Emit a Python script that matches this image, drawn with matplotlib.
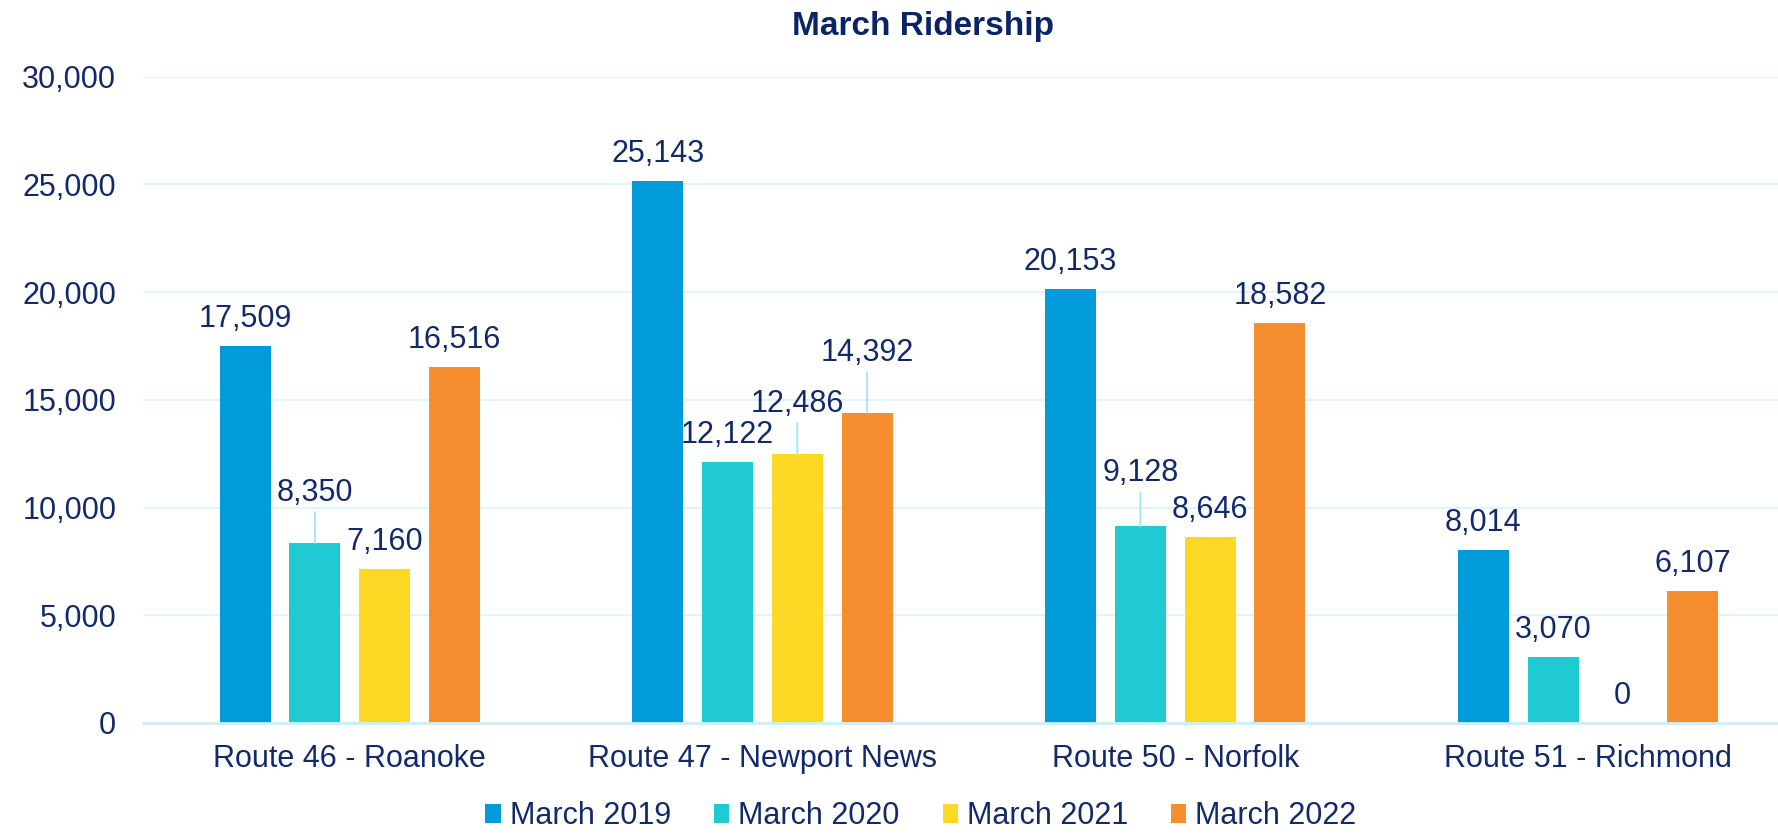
import matplotlib
matplotlib.use("Agg")
import matplotlib.pyplot as plt
from matplotlib.patches import Patch
from matplotlib.ticker import FuncFormatter
import numpy as np

# data
routes = ['Route 46 - Roanoke', 'Route 47 - Newport News',
          'Route 50 - Norfolk', 'Route 51 - Richmond']
series_names = ['March 2019', 'March 2020', 'March 2021', 'March 2022']
march_2019 = [17509, 25143, 20153, 8014]
march_2020 = [8350, 12122, 9128, 3070]
march_2021 = [7160, 12486, 8646, 0]
march_2022 = [16516, 14392, 18582, 6107]

colors = ['#009BD8', '#1FCAD3', '#FDD925', '#F68D2E']
navy = '#12296A'
grid_col = '#DDF2FB'
leader_col = '#A6E2F8'

# labels pushed up with a leader line (series, group) -> extra px
raised = {(1, 0): 23, (2, 1): 23, (3, 1): 33, (1, 2): 26}

plt.rcParams['font.family'] = ['Liberation Sans', 'DejaVu Sans']
fs = 22

fig = plt.figure(figsize=(17.78, 8.34), dpi=100)
ax = fig.add_axes([143.3/1778, (834-723)/834, 1651/1778, (723-76.7)/834])

values = [march_2019, march_2020, march_2021, march_2022]
x = np.arange(len(routes))
width = 0.1236
pitch = 0.169

for i, vals in enumerate(values):
    xs = x + (i - 1.5) * pitch
    ax.bar(xs, vals, width, color=colors[i], label=series_names[i], zorder=3)
    for j, v in enumerate(vals):
        extra = raised.get((i, j), 0)
        off = 19 + extra  # px above bar top
        ax.annotate(f'{v:,}', xy=(xs[j], v), xytext=(0, off*0.72),
                    textcoords='offset points', ha='center', va='baseline',
                    color=navy, fontsize=fs, zorder=5)
        if extra:
            ax.annotate('', xy=(xs[j], v), xytext=(0, (off-11)*0.72),
                        textcoords='offset points',
                        arrowprops=dict(arrowstyle='-', color=leader_col, lw=1.3,
                                        shrinkA=0, shrinkB=0), zorder=4)

ax.set_xlim(-0.5, 3.5)
ax.set_ylim(0, 30000)
ax.set_yticks(np.arange(0, 30001, 5000))
ax.yaxis.set_major_formatter(FuncFormatter(lambda v, p: f'{int(v):,}'))
ax.set_xticks(x)
ax.set_xticklabels(routes)
ax.tick_params(axis='y', length=0, pad=19.5, colors=navy, labelsize=fs)
ax.tick_params(axis='x', length=0, pad=15, colors=navy, labelsize=fs)
ax.grid(axis='y', color=grid_col, lw=1.2, zorder=0)
for s in ['top', 'right', 'left']:
    ax.spines[s].set_visible(False)
ax.spines['bottom'].set_color('#CDEFFB')
ax.spines['bottom'].set_linewidth(2)
ax.spines['bottom'].set_zorder(4)

fig.text(0.519, 1 - 35/834, 'March Ridership', ha='center', va='baseline',
         fontsize=24, fontweight='bold', color='#0B2466')

handles = [Patch(facecolor=c, edgecolor='none') for c in colors]
fig.legend(handles, series_names, loc='center', bbox_to_anchor=(0.518, 1 - 816/834),
           ncol=4, frameon=False, handlelength=0.5, handleheight=0.6,
           handletextpad=0.3, columnspacing=1.4, fontsize=fs, labelcolor=navy,
           borderpad=0.1)

plt.savefig('out.png', dpi=100)
